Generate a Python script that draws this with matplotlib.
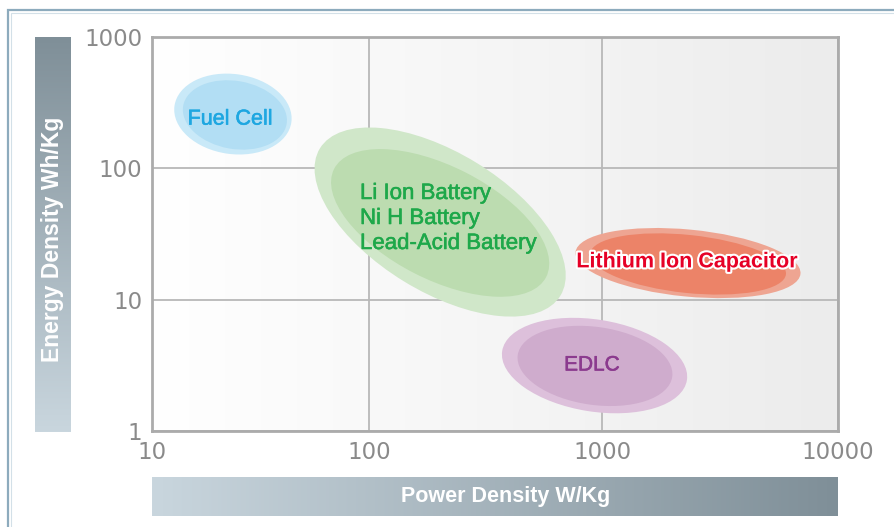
import numpy as np
import matplotlib
matplotlib.use('Agg')
import matplotlib.pyplot as plt
from matplotlib.patches import Ellipse, Rectangle
from matplotlib.transforms import ScaledTranslation
from matplotlib.colors import LinearSegmentedColormap
import matplotlib.patheffects as pe

# ---------------- data ----------------
x_ticks = [10, 100, 1000, 10000]
y_ticks = [1, 10, 100, 1000]
x_tick_labels = ['10', '100', '1000', '10000']
y_tick_labels = ['1', '10', '100', '1000']

categories = ['Fuel Cell',
              'Li Ion Battery\nNi H Battery\nLead-Acid Battery',
              'Lithium Ion Capacitor',
              'EDLC']
# region centres: power density (W/kg), energy density (Wh/kg)
outer_power = [23.6, 202, 2314, 929]
outer_energy = [259, 39.0, 19.0, 3.15]
inner_power = [24.1, 202, 2314, 933]
inner_energy = [255, 38.4, 18.7, 3.13]
label_power = [22.9, 90.9, 2292, 906]
label_energy = [237, 41.5, 19.4, 3.18]

# ---------------- styles ----------------
DPI = 100
# the printed x axis has slightly unequal decade widths (pixels per decade)
x_decade_px = [0, 217, 450, 686]
outer_size = [(118, 80, -8), (282, 139, -31.5), (226, 67, -5.5), (187, 92, -9)]
inner_size = [(105, 68, -10), (238, 113, -27), (197, 58, -6), (156, 78, -8)]
outer_col = ['#c9e9f8', '#d0e7c9', '#eea592', '#ddc0db']
inner_col = ['#b2def4', '#bcdcb0', '#ec8368', '#cfaccd']
text_col = ['#1ea7e1', '#1ea84a', '#e60026', '#8b3a8e']
text_ha = ['center', 'left', 'center', 'center']
text_weight = ['normal', 'normal', 'bold', 'normal']
text_size = [15.5, 16, 15.5, 15]

W, H = 894, 527
fig = plt.figure(figsize=(W / DPI, H / DPI), dpi=DPI)
fig.patch.set_facecolor('white')

# outer frame
fig.patches.append(Rectangle((8 / W, -0.2), 1.5, (H - 10) / H + 0.2,
                             transform=fig.transFigure, fill=False,
                             edgecolor='#8dabbd', lw=1.6))
fig.patches.append(Rectangle((10.5 / W, -0.2), 1.5, (H - 12.5) / H + 0.2,
                             transform=fig.transFigure, fill=False,
                             edgecolor='#d3e0e8', lw=0.8))

# main axes
ax = fig.add_axes([152 / W, (H - 431) / H, 686 / W, 394 / H])
dec = np.log10(x_ticks)


def fwd(x):
    return np.interp(np.log10(np.clip(x, 1e-12, None)), dec, x_decade_px)


def inv(p):
    return 10 ** np.interp(p, x_decade_px, dec)


ax.set_xscale('function', functions=(fwd, inv))
ax.set_yscale('log')

bg = LinearSegmentedColormap.from_list('bg', ['#ffffff', '#ececec'])
ax.imshow(np.linspace(0, 1, 256).reshape(1, -1), cmap=bg, aspect='auto',
          extent=[0, 1, 0, 1], transform=ax.transAxes, zorder=0)

ax.set_xlim(10, 10000)
ax.set_ylim(1, 1000)
ax.set_xticks(x_ticks)
ax.set_xticklabels(x_tick_labels)
ax.set_yticks(y_ticks)
ax.set_yticklabels(y_tick_labels)
ax.minorticks_off()
ax.tick_params(length=0, labelsize=16.5, labelcolor='#8a8a8a')
ax.tick_params(axis='x', pad=7)
ax.tick_params(axis='y', pad=7)
ax.grid(True, color='#b8b8b8', lw=1.3, zorder=1)
ax.set_axisbelow(True)
for s in ax.spines.values():
    s.set_color('#ababab')
    s.set_linewidth(2)
    s.set_zorder(5)

for i in range(len(categories)):
    for px, py, (w, h, a), c, z in [
        (outer_power[i], outer_energy[i], outer_size[i], outer_col[i], 2),
        (inner_power[i], inner_energy[i], inner_size[i], inner_col[i], 3)]:
        tr = fig.dpi_scale_trans + ScaledTranslation(px, py, ax.transData)
        ax.add_patch(Ellipse((0, 0), w / DPI, h / DPI, angle=a,
                             transform=tr, facecolor=c, edgecolor='none',
                             zorder=z))
    if i == 2:
        effects = [pe.withStroke(linewidth=3, foreground='white')]
    else:
        effects = [pe.withStroke(linewidth=0.4, foreground=text_col[i])]
    ax.text(label_power[i], label_energy[i], categories[i],
            ha=text_ha[i], va='center', color=text_col[i],
            fontsize=text_size[i], fontweight=text_weight[i],
            family='Liberation Sans', linespacing=1.25,
            path_effects=effects, zorder=6)

# axis title bars
ycm = LinearSegmentedColormap.from_list('yb', ['#c9d6de', '#7f8f98'])
ybar = fig.add_axes([35 / W, (H - 432) / H, 36 / W, 395 / H])
ybar.imshow(np.linspace(0, 1, 256).reshape(-1, 1), cmap=ycm, aspect='auto',
            origin='lower', extent=[0, 1, 0, 1])
ybar.set_axis_off()
ybar.text(0.5, 0.489, 'Energy Density Wh/Kg', rotation=90, color='white',
          fontsize=16.5, fontweight='bold', family='Liberation Sans',
          ha='center', va='center', transform=ybar.transAxes)

xcm = LinearSegmentedColormap.from_list('xb', ['#c9d6de', '#7f8f98'])
xbar = fig.add_axes([152 / W, (H - 516) / H, 686 / W, 39 / H])
xbar.imshow(np.linspace(0, 1, 256).reshape(1, -1), cmap=xcm, aspect='auto',
            extent=[0, 1, 0, 1])
xbar.set_axis_off()
xbar.text(0.515, 0.5, 'Power Density W/Kg', color='white',
          fontsize=15.5, fontweight='bold', family='Liberation Sans',
          ha='center', va='center', transform=xbar.transAxes)

fig.savefig('out.png', dpi=DPI)
